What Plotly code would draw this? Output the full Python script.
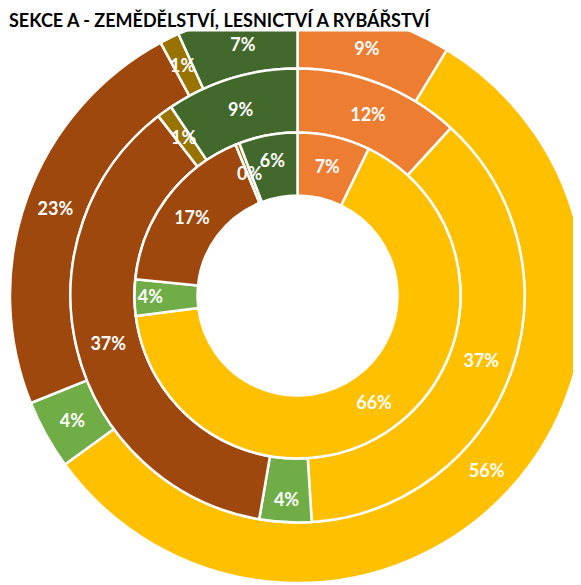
import math
import plotly.graph_objects as go

# categories in clockwise order starting at 12 o'clock
categories = ["oranžová", "žlutá", "zelená", "hnědá", "olivová", "tmavě zelená"]
colors = ["#ED7D31", "#FFC000", "#70AD47", "#9E480E", "#997300", "#43682B"]

# ring values (%)
inner_vals = [7.2, 65.8, 3.6, 17.2, 0.4, 5.8]
middle_vals = [11.8, 37.2, 3.7, 36.8, 1.1, 9.4]
outer_vals = [8.7, 56.3, 3.9, 23.2, 1.1, 6.8]

title_text = "SEKCE A - ZEMĚDĚLSTVÍ, LESNICTVÍ A RYBÁŘSTVÍ"

W, H = 581, 585
ML, MT = 2, 0
SIDE = 575.0           # plot area is a square
R = SIDE / 2           # outer radius in px
r_mid, r_in, r_hole = 227.0, 163.0, 100.0

label_font = dict(family="Lato", size=18, color="white")
SMALL = 0.02  # slices thinner than this get their label as an annotation


def ring(vals, r_out, r_inner):
    half = r_out / SIDE
    total = sum(vals)
    positions = ["none" if v / total < SMALL else "inside" for v in vals]
    return go.Pie(
        labels=categories,
        values=vals,
        sort=False,
        direction="clockwise",
        rotation=0,
        hole=r_inner / r_out,
        domain=dict(x=[0.5 - half, 0.5 + half], y=[0.5 - half, 0.5 + half]),
        marker=dict(colors=colors, line=dict(color="white", width=2.5)),
        texttemplate="<b>%{percent:.0%}</b>",
        textposition=positions,
        insidetextorientation="horizontal",
        textfont=label_font,
        hoverinfo="label+percent",
        showlegend=False,
    )


def small_labels(vals, r_out, r_inner):
    # labels of thin slices, centred in the ring like the other labels
    total = sum(vals)
    r_c = (r_out + r_inner) / 2
    start = 0.0
    for v in vals:
        share = v / total
        if share < SMALL:
            theta = 2 * math.pi * (start + share / 2)
            fig.add_annotation(
                text="<b>" + f"{share:.0%}" + "</b>",
                xref="paper", yref="paper",
                x=0.5 + r_c * math.sin(theta) / SIDE,
                y=0.5 + r_c * math.cos(theta) / SIDE,
                xanchor="center", yanchor="middle",
                showarrow=False,
                font=label_font,
            )
        start += share


fig = go.Figure()
fig.add_trace(ring(outer_vals, R, r_mid))
fig.add_trace(ring(middle_vals, r_mid, r_in))
fig.add_trace(ring(inner_vals, r_in, r_hole))

small_labels(outer_vals, R, r_mid)
small_labels(middle_vals, r_mid, r_in)
small_labels(inner_vals, r_in, r_hole)

# title sits on a white band over the top of the outer ring
fig.add_annotation(
    text="<b>" + title_text + "</b>",
    xref="paper", yref="paper",
    x=-ML / SIDE, y=1,
    xanchor="left", yanchor="top",
    showarrow=False,
    bgcolor="white",
    borderpad=0,
    font=dict(family="Lato", size=18, color="black"),
)

fig.update_layout(
    width=W, height=H,
    margin=dict(l=ML, r=W - ML - SIDE, t=MT, b=H - MT - SIDE),
    paper_bgcolor="white",
    plot_bgcolor="white",
    uniformtext=dict(minsize=18, mode="show"),
)

fig.write_html("out.html")
